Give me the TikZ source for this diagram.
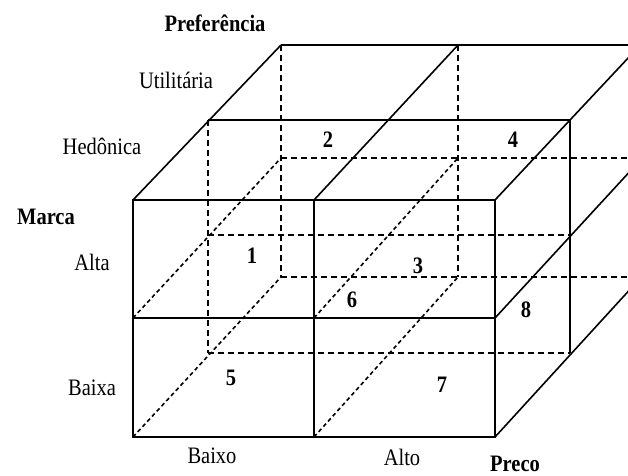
\documentclass[tikz,border=0pt]{standalone}
\usepackage{fontspec}
\usepackage{graphicx}
\setmainfont{Liberation Serif}
\newcommand{\vstr}[1]{\scalebox{1}[1.15]{#1}}
\begin{document}
\begin{tikzpicture}[x=1pt,y=-1pt,
  edge/.style={line width=1.6pt},
  hid/.style={line width=1.8pt,dash pattern=on 6pt off 4pt},
  hiddiag/.style={line width=1.6pt,dash pattern=on 4pt off 3pt},
  lab/.style={inner sep=0pt,anchor=base,font=\fontsize{20.5}{24}\selectfont},
  blab/.style={lab,font=\fontsize{20.5}{24}\selectfont\bfseries}]
\useasboundingbox (0,0) rectangle (628,475);
\fill[white] (0,0) rectangle (628,475);
% front face
\coordinate (FTL) at (133,200); \coordinate (FTM) at (314,200); \coordinate (FTR) at (495,200);
\coordinate (FML) at (133,318); \coordinate (FMM) at (314,318); \coordinate (FMR) at (495,318);
\coordinate (FBL) at (133,437); \coordinate (FBM) at (314,437); \coordinate (FBR) at (495,437);
% middle layer
\coordinate (MTL) at (208,120); \coordinate (MTR) at (570,120);
\coordinate (MML) at (208,235); \coordinate (MMR) at (570,235);
\coordinate (MBL) at (208,353); \coordinate (MBR) at (570,353);
% back layer
\coordinate (BTL) at (281,45); \coordinate (BTM) at (458,45); \coordinate (BTR) at (642,45);
\coordinate (BML) at (281,158); \coordinate (BMM) at (458,158); \coordinate (BMR) at (642,158);
\coordinate (BBL) at (281,277); \coordinate (BBM) at (458,277); \coordinate (BBR) at (642,277);
\coordinate (DTR) at (645,40); \coordinate (DMR) at (645,155); \coordinate (DBR) at (645,273);
\begin{scope}
\clip (0,0) rectangle (628,475);
% hidden lines
\draw[hid] (MTL) -- (MBL);
\draw[hid] (MML) -- (MMR);
\draw[hid] (MBL) -- (MBR);
\draw[hid] (BTL) -- (BBL);
\draw[hid] (BTM) -- (BBM);
\draw[hid] (BML) -- (BMR);
\draw[hid] (BBL) -- (BBR);
\draw[hiddiag] (FBL) -- (BBL);
\draw[hiddiag] (FML) -- (BML);
\draw[hiddiag] (FBM) -- (BBM);
\draw[hiddiag] (FMM) -- (BMM);
% visible edges
\draw[edge] (FTL) -- (FTR) -- (FBR) -- (FBL) -- cycle;
\draw[edge] (FML) -- (FMR);
\draw[edge] (FTM) -- (FBM);
\draw[edge] (FTL) -- (BTL);
\draw[edge] (FTM) -- (BTM);
\draw[edge] (FTR) -- (DTR);
\draw[edge] (BTL) -- (BTR);
\draw[edge] (MTL) -- (MTR) -- (MBR);
\draw[edge] (FMR) -- (DMR);
\draw[edge] (FBR) -- (DBR);
\end{scope}
% labels
\node[blab] (pref) at (215,31) {\vstr{Preferência}};
\node[lab] (util) at (176,88) {\vstr{Utilitária}};
\node[lab] (hed) at (102,154) {\vstr{Hedônica}};
\node[blab] (marca) at (46,224) {\vstr{Marca}};
\node[lab] (alta) at (92,270) {\vstr{Alta}};
\node[lab] (baixa) at (92,395) {\vstr{Baixa}};
\node[lab] (baixo) at (212,463) {\vstr{Baixo}};
\node[lab] (alto) at (402,465) {\vstr{Alto}};
\node[blab] (preco) at (515,471) {\vstr{Preco}};
\node[blab] (n1) at (252,263) {\vstr{1}};
\node[blab] (n2) at (328,147) {\vstr{2}};
\node[blab] (n4) at (513,147) {\vstr{4}};
\node[blab] (n3) at (418,273) {\vstr{3}};
\node[blab] (n6) at (352,307) {\vstr{6}};
\node[blab] (n8) at (526,317) {\vstr{8}};
\node[blab] (n5) at (231,385) {\vstr{5}};
\node[blab] (n7) at (442,392) {\vstr{7}};
\end{tikzpicture}
\end{document}
